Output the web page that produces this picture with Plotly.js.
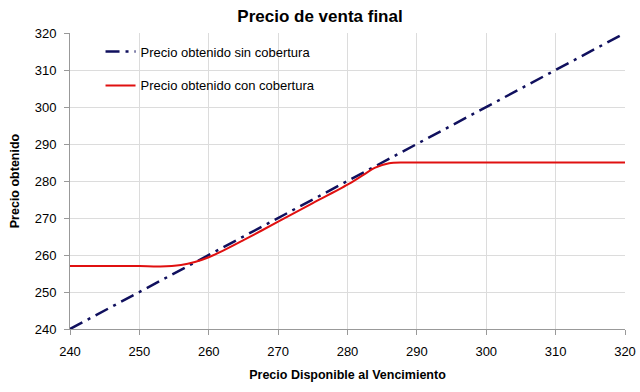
<!DOCTYPE html>
<html><head><meta charset="utf-8">
<script src="https://cdn.plot.ly/plotly-3.0.1.min.js"></script>
<style>body{margin:0;background:#fff}#c{width:640px;height:392px}</style>
</head><body><div id="c"></div>
<script>
var xSin = [240, 320];
var ySin = [240, 320];
var xCon = [240, 245, 250, 253, 256, 258, 260, 262, 265, 270, 275, 280, 282, 284, 286, 288, 290, 300, 310, 320];
var yCon = [257, 257, 257, 256.9, 257.3, 258.1, 259.4, 261.1, 264, 269, 274, 279, 281.3, 283.6, 284.8, 285, 285, 285, 285, 285];
var xTicks = [240, 250, 260, 270, 280, 290, 300, 310, 320];
var yTicks = [240, 250, 260, 270, 280, 290, 300, 310, 320];

var traces = [
  {x: xSin, y: ySin, mode: 'lines', name: 'Precio obtenido sin cobertura', legendgroup: 'a',
   line: {color: '#10105e', width: 2.5, dash: '14px,6px,3px,6px'}},
  {x: xCon, y: yCon, mode: 'lines', name: 'Precio obtenido con cobertura', legendgroup: 'b',
   line: {color: '#e01010', width: 2, shape: 'spline', smoothing: 0.8}}
];
var layout = {
  width: 640, height: 392,
  margin: {l: 70, r: 15, t: 33, b: 63},
  paper_bgcolor: '#fff', plot_bgcolor: '#fff',
  font: {family: 'Liberation Sans, Arial, sans-serif', size: 13, color: '#000'},
  title: {text: '<b>Precio de venta final</b>', font: {size: 17}, x: 0.5, xanchor: 'center', y: 0.975, yanchor: 'top'},
  xaxis: {range: [240, 320], tickvals: xTicks, ticktext: xTicks.map(String),
    showgrid: true, gridcolor: '#dcdcdc', zeroline: false,
    showline: true, linecolor: '#999', ticks: 'outside', ticklen: 5, tickcolor: '#999', ticklabelstandoff: 5,
    title: {text: '<b>Precio Disponible al Vencimiento</b>', font: {size: 12.5}, standoff: 12}},
  yaxis: {range: [240, 320], tickvals: yTicks, ticktext: yTicks.map(String),
    showgrid: true, gridcolor: '#dcdcdc', zeroline: false,
    showline: true, linecolor: '#999', ticks: 'outside', ticklen: 5, tickcolor: '#999', ticklabelstandoff: 5,
    title: {text: '<b>Precio obtenido</b>', font: {size: 12.5}, standoff: 12}},
  showlegend: true,
  legend: {x: 0.055, y: 0.988, xanchor: 'left', yanchor: 'top', bgcolor: 'rgba(255,255,255,0)',
    font: {size: 13}, traceorder: 'grouped', tracegroupgap: 14, itemwidth: 30}
};
Plotly.newPlot('c', traces, layout, {displayModeBar: false, staticPlot: true});
</script></body></html>
